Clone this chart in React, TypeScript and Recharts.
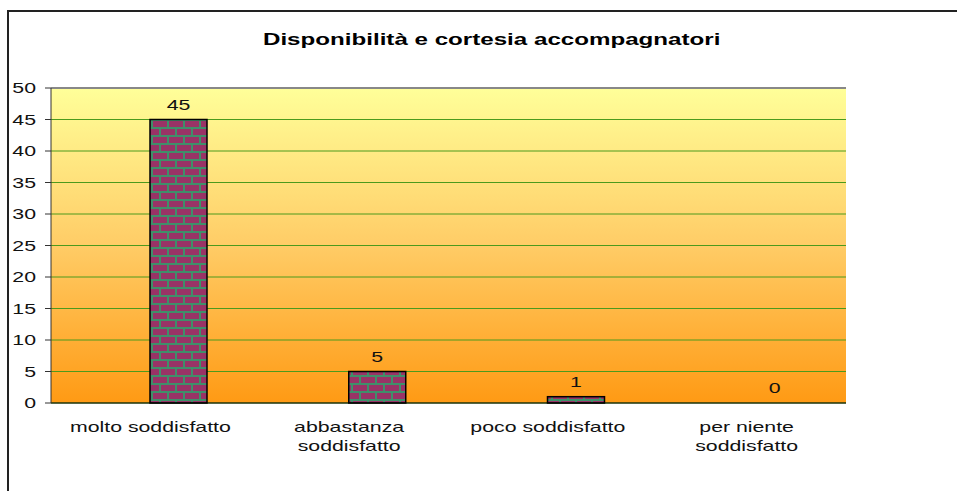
import { BarChart, Bar, XAxis, YAxis, CartesianGrid, ReferenceLine } from "recharts"

const categories = ["molto soddisfatto", "abbastanza\nsoddisfatto", "poco soddisfatto", "per niente\nsoddisfatto"]
const risposte = [45, 5, 1, 0]
const vuota = [null, null, null, null]
const yTicks = [0, 5, 10, 15, 20, 25, 30, 35, 40, 45, 50]
const edgeTicks = [0, 1, 2, 3, 4]

const data = categories.map((c, i) => ({ cat: c, vuota: vuota[i], risposte: risposte[i] }))

const FONT = "'Liberation Sans', Arial, sans-serif"
const SX = 1.42 // the reference looks stretched sideways

function CatTick({ x, y, payload }: any) {
  const lines = String(payload.value).split("\n")
  return (
    <g transform={`translate(${x},${y + 21})`}>
      <text transform={`scale(${SX},1)`} textAnchor="middle" fontSize={15} fontFamily={FONT} fill="#111">
        {lines.map((l, i) => (
          <tspan key={i} x={0} dy={i === 0 ? 0 : 19}>{l}</tspan>
        ))}
      </text>
    </g>
  )
}

function ValTick({ x, y, payload }: any) {
  return (
    <g transform={`translate(${x - 7},${y + 5})`}>
      <text transform={`scale(${SX},1)`} textAnchor="end" fontSize={15} fontFamily={FONT} fill="#111">
        {payload.value}
      </text>
    </g>
  )
}

function BrickBar(props: any) {
  const { x, y, width, height, value } = props
  return (
    <g>
      {height > 0 && <rect x={x} y={y} width={width} height={height} fill="url(#mattoni)" stroke="#000" strokeWidth={1.5} />}
      <g transform={`translate(${x + width / 2},${y - 10})`}>
        <text transform={`scale(${SX},1)`} textAnchor="middle" fontSize={15} fontFamily={FONT} fill="#111">{value}</text>
      </g>
    </g>
  )
}

function App() {
  return (
    <div style={{ position: "absolute", left: 0, top: 0, width: 957, height: 491, background: "#fff", overflow: "hidden" }}>
      <div style={{ position: "absolute", left: 7, top: 10, width: 1000, height: 600, border: "2px solid #222", boxSizing: "border-box" }} />
      <div style={{ position: "absolute", left: 0, top: 30, width: 983, textAlign: "center", fontFamily: FONT, fontWeight: "bold", fontSize: 17, color: "#000", transform: `scaleX(${SX})`, transformOrigin: "491px 0" }}>
        Disponibilità e cortesia accompagnatori
      </div>
      <BarChart width={957} height={491} data={data} margin={{ top: 88, right: 111, left: 0, bottom: 0 }} barGap={0}>
        <defs>
          <linearGradient id="sfondo" x1="0" y1="0" x2="0" y2="1">
            <stop offset="0%" stopColor="#ffff99" />
            <stop offset="50%" stopColor="#ffcc66" />
            <stop offset="100%" stopColor="#ff9a14" />
          </linearGradient>
          <pattern id="mattoni" width={16} height={16} patternUnits="userSpaceOnUse">
            <rect width={16} height={16} fill="#3f8f6a" />
            <rect x={1} y={1} width={14} height={6} fill="#993366" />
            <rect x={-7} y={9} width={14} height={6} fill="#993366" />
            <rect x={9} y={9} width={14} height={6} fill="#993366" />
          </pattern>
        </defs>
        <CartesianGrid vertical={false} stroke="#4c9a1c" fill="url(#sfondo)" fillOpacity={1} />
        <XAxis xAxisId="cat" dataKey="cat" height={88} interval={0} tickLine={false} axisLine={{ stroke: "#000" }} tick={<CatTick />} />
        <XAxis xAxisId="edges" type="number" domain={[0, 4]} ticks={edgeTicks} height={0} tick={false} tickSize={6} tickLine={{ stroke: "#333" }} axisLine={false} />
        <YAxis width={51} domain={[0, 50]} ticks={yTicks} interval={0} tickSize={6} tickLine={{ stroke: "#333" }} axisLine={{ stroke: "#333" }} tick={<ValTick />} />
        <ReferenceLine xAxisId="cat" y={50} stroke="#888" strokeWidth={2} />
        <ReferenceLine xAxisId="edges" x={4} stroke="#888" strokeWidth={2} />
        <Bar xAxisId="cat" dataKey="vuota" barSize={57} fill="none" isAnimationActive={false} />
        <Bar xAxisId="cat" dataKey="risposte" barSize={57} shape={<BrickBar />} isAnimationActive={false} />
      </BarChart>
    </div>
  )
}

export default App
